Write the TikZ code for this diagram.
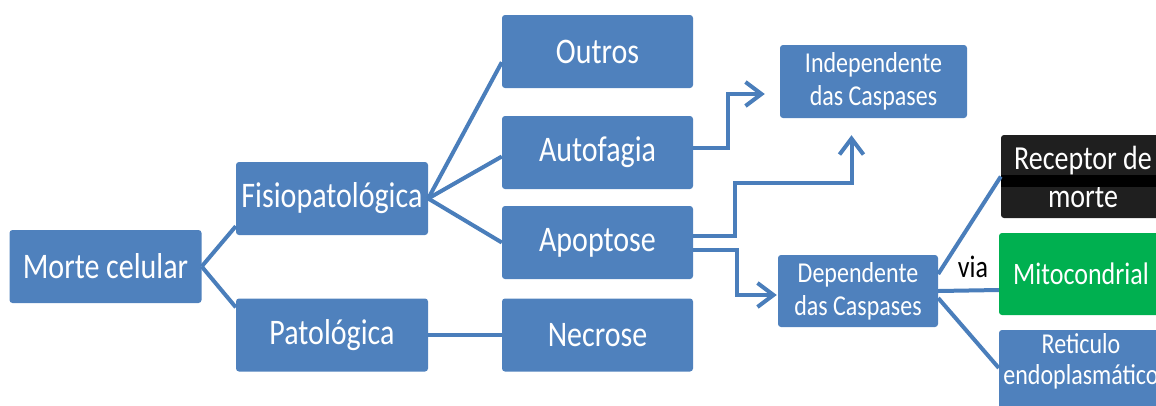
\documentclass[tikz,border=0pt]{standalone}
\usepackage{fontspec}
\setmainfont{Carlito}
\usetikzlibrary{arrows.meta,calc}
\definecolor{boxblue}{HTML}{4F81BD}
\definecolor{lineblue}{HTML}{4A7EBB}
\definecolor{mitogreen}{HTML}{00B050}
\newcommand{\tallbox}[1]{\scalebox{1}[1.2]{#1}}
\begin{document}
\begin{tikzpicture}[x=1pt,y=-1pt,
  box/.style={rectangle,rounded corners=3pt,fill=boxblue,text=white,inner sep=0pt,
    font=\fontsize{30}{32}\selectfont,minimum width=192pt,minimum height=73pt},
  smallbox/.style={box,font=\fontsize{24}{33}\selectfont,align=center},
  conn/.style={draw=lineblue,line width=4pt},
  arr/.style={conn,-{Straight Barb[length=16pt,width=24pt]}}]
\clip (0,0) rectangle (1156,405);
\node[box] (morte) at (105.5,266.5) {\tallbox{Morte celular}};
\node[box] (fisio) at (332,198.5) {\tallbox{Fisiopatológica}};
\node[box] (pato) at (332,335) {\tallbox{Patológica}};
\node[box,minimum width=191pt] (outros) at (597.5,51.5) {\tallbox{Outros}};
\node[box,minimum width=191pt] (autof) at (597.5,152.5) {\tallbox{Autofagia}};
\node[box,minimum width=191pt] (apop) at (597.5,242.5) {\tallbox{Apoptose}};
\node[box,minimum width=191pt] (necro) at (597.5,335) {\tallbox{Necrose}};
\node[smallbox,minimum width=187pt] (indep) at (873.5,81.5) {\tallbox{Independente}\\\tallbox{das Caspases}};
\node[smallbox,minimum width=160pt,minimum height=72pt] (dep) at (858,291) {\tallbox{Dependente}\\\tallbox{das Caspases}};
\node[smallbox,fill=black!88,minimum width=164pt,minimum height=83pt,
  font=\fontsize{28}{38}\selectfont] (recep) at (1083,176.5) {\tallbox{Receptor de}\\\tallbox{morte}};
\fill[black] ([yshift=1.5pt]recep.west) rectangle ([yshift=-10.5pt]recep.east);
\node[smallbox,fill=mitogreen,minimum width=164pt,minimum height=82pt,
  font=\fontsize{26}{30}\selectfont] (mito) at (1081,274) {\tallbox{Mitocondrial}};
\node[box,minimum width=164pt,minimum height=82pt] (ret) at (1081,371) {};
\node[text=white,align=center,inner sep=0pt,font=\fontsize{24}{31}\selectfont] (retlabel) at (1081,361) {\tallbox{Reticulo}\\\tallbox{endoplasmático}};
\node[font=\fontsize{26}{30}\selectfont,inner sep=0pt] (via) at (973,267) {\tallbox{via}};
\draw[conn] (morte.east) -- ([yshift=9pt]fisio.south west);
\draw[conn] (morte.east) -- ([yshift=-9pt]pato.north west);
\draw[conn] (fisio.east) -- ([yshift=26pt]outros.south west);
\draw[conn] (fisio.east) -- ([yshift=-4pt]autof.west);
\draw[conn] (fisio.east) -- (apop.west);
\draw[conn] (pato.east) -- (necro.west);
\draw[arr,shorten >=15pt] ([yshift=5pt]autof.east) -- ++(35,0) |- ([yshift=-12.5pt]indep.west);
\draw[arr,shorten >=17pt] ([yshift=7pt]apop.east) -- ++(42,0) |- ([xshift=-22pt,yshift=-65pt]indep.south) -- ([xshift=-22pt]indep.south);
\draw[arr,shorten >=1pt] ([yshift=-7pt]apop.east) -- ++(44,0) |- ([yshift=-4pt]dep.west);
\draw[conn] ([yshift=17pt]dep.east) -- (recep.west);
\draw[conn] (dep.east) -- ([yshift=-16pt]mito.west);
\draw[conn] ([yshift=-7pt]dep.east) -- ([yshift=3pt]ret.west);
\end{tikzpicture}
\end{document}
